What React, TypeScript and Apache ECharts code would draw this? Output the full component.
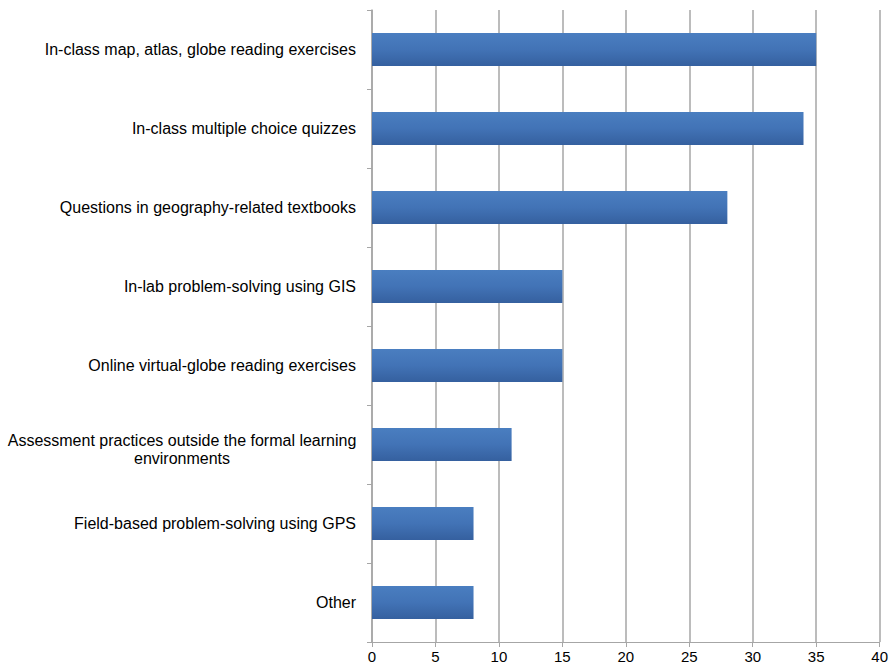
import React, { useEffect, useRef } from "react";
import * as echarts from "echarts";

const categories = [
  "In-class map, atlas, globe reading exercises",
  "In-class multiple choice quizzes",
  "Questions in geography-related textbooks",
  "In-lab problem-solving using GIS",
  "Online virtual-globe reading exercises",
  "Assessment practices outside the formal learning environments",
  "Field-based problem-solving using GPS",
  "Other",
];
const values = [35, 34, 28, 15, 15, 11, 8, 8];
const xTicks = { min: 0, max: 40, interval: 5 };

const FONT = "Liberation Sans, Arial, sans-serif";

export default function App() {
  const ref = useRef<HTMLDivElement>(null);
  useEffect(() => {
    if (!ref.current) return;
    const chart = echarts.init(ref.current, undefined, { renderer: "svg" });
    const gray = "#a6a6a6";
    chart.setOption({
      animation: false,
      backgroundColor: "#ffffff",
      grid: { left: 372, right: 11, top: 10, bottom: 25, containLabel: false },
      xAxis: {
        type: "value",
        min: xTicks.min,
        max: xTicks.max,
        interval: xTicks.interval,
        axisLine: { show: true, lineStyle: { color: gray, width: 1 } },
        axisTick: { show: true, length: 5, lineStyle: { color: gray } },
        splitLine: { show: true, lineStyle: { color: gray, width: 1.5 } },
        axisLabel: {
          color: "#000",
          fontSize: 15,
          fontFamily: FONT,
          margin: 7,
        },
      },
      yAxis: {
        type: "category",
        inverse: true,
        data: categories,
        axisLine: { show: true, lineStyle: { color: gray, width: 1.5 } },
        axisTick: { show: true, length: 5, lineStyle: { color: gray } },
        axisLabel: {
          color: "#000",
          fontSize: 16,
          fontFamily: FONT,
          margin: 16,
          formatter: (v: string) => {
            if (v.length > 50) {
              const words = v.split(" ");
              let l1 = "";
              let i = 0;
              while (i < words.length && (l1 + " " + words[i]).trim().length <= 48) {
                l1 = (l1 + " " + words[i]).trim();
                i++;
              }
              const l2 = words.slice(i).join(" ");
              return `{s| }\n{c|${l1}}\n{c|${l2}}`;
            }
            return v;
          },
          rich: {
            s: {
              width: 348,
              fontSize: 1,
              lineHeight: 10,
            },
            c: {
              width: 348,
              align: "center",
              fontSize: 16,
              lineHeight: 18,
              color: "#000",
              fontFamily: FONT,
            },
          },
        },
      },
      series: [
        {
          type: "bar",
          data: values,
          barWidth: 33,
          itemStyle: {
            color: new echarts.graphic.LinearGradient(0, 0, 0, 1, [
              { offset: 0, color: "#4a7ec0" },
              { offset: 0.5, color: "#4273b6" },
              { offset: 1, color: "#35609f" },
            ]),
          },
        },
      ],
    });
    return () => chart.dispose();
  }, []);
  return (
    <div
      ref={ref}
      style={{ position: "fixed", left: 0, top: 0, width: 891, height: 667 }}
    />
  );
}
